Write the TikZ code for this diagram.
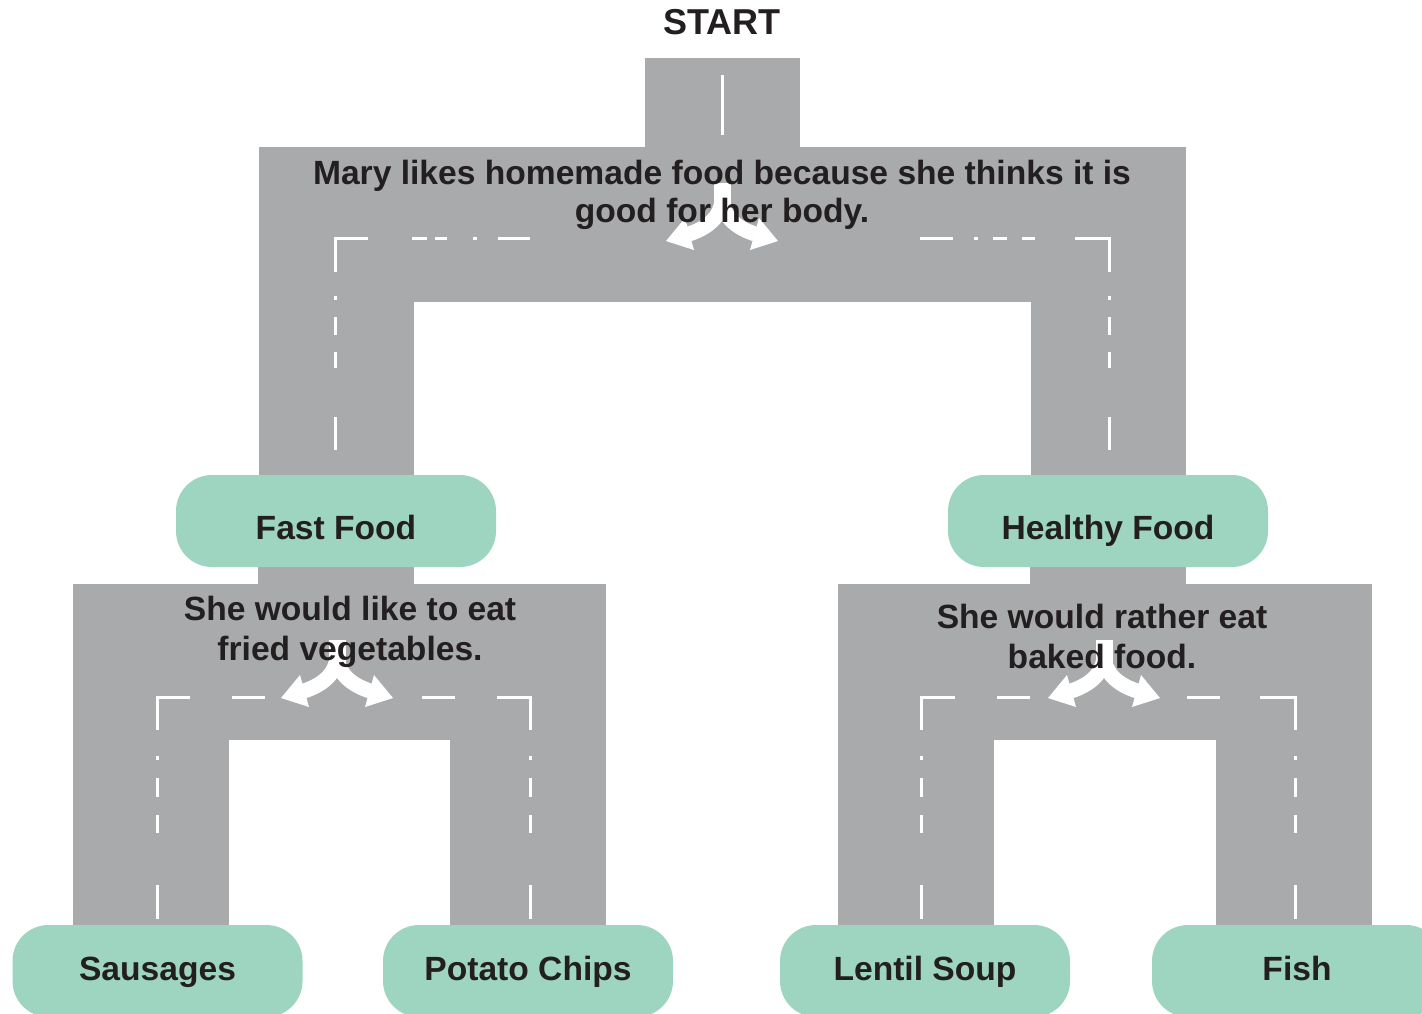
\documentclass[tikz,border=0pt]{standalone}
\usepackage{fontspec}
\setmainfont{Liberation Sans}
\usetikzlibrary{backgrounds}
\definecolor{roadgray}{HTML}{A8AAAB}
\definecolor{mint}{HTML}{9DD5C0}
\definecolor{ink}{HTML}{231F20}
\begin{document}
\begin{tikzpicture}[x=0.5pt,y=-0.5pt,
  road/.style={draw=roadgray,line width=78pt,line join=miter},
  lane/.style={draw=white,line width=1.5pt},
  choice/.style={fill=mint,rounded corners=18pt,minimum height=46pt,inner sep=0pt,
    font=\fontsize{16.8pt}{20pt}\selectfont\bfseries,text=ink,text height=12pt,text depth=0pt},
  upper/.style={choice,minimum width=160pt,text height=18pt},
  lower/.style={choice,minimum width=145pt,text height=9pt},
  note/.style={align=center,inner sep=0pt,text=ink},
  forkarrow/.pic={
    \draw[white,line width=8.5pt] (0,0) -- (0,22);
    \draw[white,line width=7.5pt] (0,14) .. controls (0,32) and (-12,44) .. (-33,51);
    \draw[white,line width=7.5pt] (0,14) .. controls (0,32) and (12,44) .. (33,51);
    \fill[white] (-56,58) -- (-28,67) -- (-37,35) -- cycle;
    \fill[white] (56,58) -- (28,67) -- (37,35) -- cycle;
  }]
\useasboundingbox (0,0) rectangle (1422,1013);
\clip (0,0) rectangle (1422,1013);

% nodes
\node[font=\fontsize{18pt}{20pt}\selectfont\bfseries,text=ink] (start) at (722,22) {START};
\coordinate (s0) at (722,58);
\node[upper] (fast) at (336,521) {Fast Food};
\node[upper] (healthy) at (1108,521) {Healthy Food};
\node[lower] (saus) at (157.5,971) {Sausages};
\node[lower] (chips) at (528,971) {Potato Chips};
\node[lower] (lentil) at (925,971) {Lentil Soup};
\node[lower] (fish) at (1297,971) {Fish};

% roads
\begin{scope}[on background layer]
  \fill[white] (0,0) rectangle (1422,1013);
  \draw[road,line width=77.5pt] (s0) -- (722,224);
  \draw[road,line width=77.5pt] (fast.center) |- (722,224) -| (healthy.center);
  \draw[road] (fast.center) -- (336,662);
  \draw[road] ([xshift=-3.25pt]saus.center) |- (336,662) -| (chips.center);
  \draw[road] (healthy.center) -- (1108,662);
  \draw[road] ([xshift=-4.5pt]lentil.center) |- (1108,662) -| ([xshift=-1.75pt]fish.center);
\end{scope}

% lane markings, top
\draw[lane] (722,75) -- (722,135);
\draw[lane] (368,238) -- (335,238) -- (335,272);
\draw[lane] (1075,238) -- (1109,238) -- (1109,272);
\foreach \a/\b in {412/427,435/447,473/477,498/530,920/953,974/978,993/1007,1022/1035}
  \draw[lane] (\a,238) -- (\b,238);
\foreach \x in {335,1109}
  \foreach \a/\b in {296/300,317/335,352/368,417/450}
    \draw[lane] (\x,\a) -- (\x,\b);

% lane markings, lower
\draw[lane] (190,697) -- (157,697) -- (157,730);
\draw[lane] (497,697) -- (530,697) -- (530,730);
\draw[lane] (955,697) -- (921,697) -- (921,730);
\draw[lane] (1260,697) -- (1295,697) -- (1295,730);
\foreach \a/\b in {232/265,422/455,997/1030,1187/1220}
  \draw[lane] (\a,697) -- (\b,697);
\foreach \x in {157,530,921,1295}
  \foreach \a/\b in {756/760,778/797,815/833,885/919}
    \draw[lane] (\x,\a) -- (\x,\b);

% fork arrows
\pic at (722,183) {forkarrow};
\pic at (337,640) {forkarrow};
\pic at (1104,640) {forkarrow};

% questions
\node[note,font=\fontsize{16.8pt}{19pt}\selectfont\bfseries] (q1) at (722,195)
  {Mary likes homemade food because she thinks it is\\good for her body.};
\node[note,font=\fontsize{16.8pt}{20pt}\selectfont\bfseries] (q2) at (350,632)
  {She would like to eat\\fried vegetables.};
\node[note,font=\fontsize{16.8pt}{20pt}\selectfont\bfseries] (q3) at (1102,636)
  {She would rather eat\\baked food.};
\end{tikzpicture}
\end{document}
